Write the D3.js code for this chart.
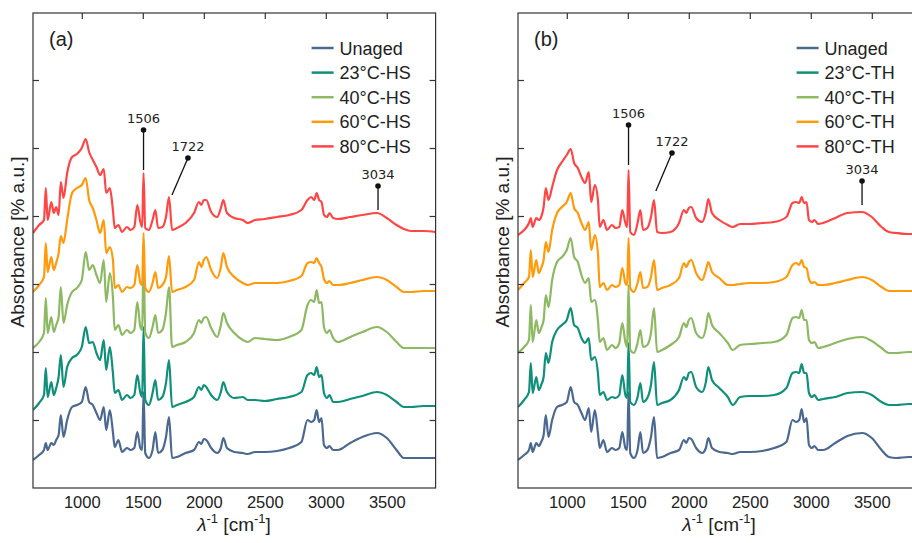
<!DOCTYPE html>
<html>
<head>
<meta charset="utf-8">
<script src="https://cdn.jsdelivr.net/npm/d3@7"></script>
<style>
  html, body { margin: 0; padding: 0; background: #fff; }
  svg { display: block; }
</style>
</head>
<body>
<svg id="chart" width="912" height="543"></svg>
<script>
// ---------- DATA ----------
const wavenumbers = [600,650,690,705,720,750,770,790,810,828,850,880,920,960,1000,1032,1060,1090,1120,1150,1180,1200,1230,1255,1270,1300,1330,1370,1400,1430,1455,1480,1495,1506,1520,1550,1580,1603,1625,1660,1690,1715,1740,1780,1850,1920,1960,1980,2000,2020,2060,2110,2140,2160,2190,2250,2320,2360,2420,2500,2600,2700,2800,2850,2880,2905,2925,2945,2965,2985,3010,3030,3060,3100,3200,3300,3420,3500,3580,3640,3700,3800,3900];

const seriesNamesA = ["Unaged", "23°C-HS", "40°C-HS", "60°C-HS", "80°C-HS"];
const seriesNamesB = ["Unaged", "23°C-TH", "40°C-TH", "60°C-TH", "80°C-TH"];
const seriesColors = ["#4b6990", "#10907a", "#8cb962", "#ff9a0a", "#ff4646"];

// Panel (a): heat-stabilised ageing (absorbance, a.u., offset stacked)
const unagedA = [28,33,38,45,38, 45,43,48,53,73, 51,68,81,83,86, 101,86,83,75,68, 81,58,78,56,41, 48,36,40,38,40, 56,40,38,96,35, 30,38,56,35,38, 51,71,30,31,35, 38,46,44,49,48, 40,35,40,50,40, 36,35,34,36,36, 37,40,46,68,66, 68,78,66,70,43, 40,42,38,38,45, 51,55,50,38,30, 30,30,30];
const hs23 = [78,85,93,120,91, 106,93,100,111,133, 101,121,130,133,141, 161,145,146,135,128, 148,118,141,115,95, 98,88,93,90,93, 113,95,91,161,88, 83,95,108,88,91, 105,128,81,83,86, 91,101,98,103,101, 93,88,96,106,96, 90,91,88,88,87, 89,91,96,113,115, 113,121,111,113,95, 90,93,86,86,89, 92,96,93,86,81, 81,82,82];
const hs40 = [140,146,155,190,155, 171,156,163,171,201, 165,183,196,200,208, 236,218,223,213,205, 228,186,215,191,158, 163,153,158,155,158, 186,161,158,233,155, 150,161,173,155,158, 175,201,141,143,146, 155,168,165,170,171, 160,151,163,175,165, 155,148,146,150,149, 148,151,158,183,188, 186,198,185,186,161, 155,158,150,146,151, 156,161,156,146,140, 140,140,140];
const hs60 = [196,203,211,245,216, 231,218,225,235,252, 245,268,295,300,303, 310,288,280,268,255, 268,235,241,228,200, 203,196,201,200,203, 223,205,203,255,200, 196,205,216,200,203, 211,232,196,198,201, 208,226,221,228,231, 218,210,221,235,221, 211,205,203,205,205, 205,207,212,225,226, 225,230,225,221,209, 205,207,203,203,205, 208,211,208,201,196, 196,197,197];
const hs80 = [255,263,268,300,268, 286,275,281,273,306, 290,315,331,334,340, 349,336,328,321,313, 319,295,300,278,260, 263,256,261,258,261, 283,266,261,315,260, 258,268,278,260,261, 271,291,258,260,265, 275,286,283,288,288, 276,271,280,288,275, 270,268,265,268,269, 271,273,278,288,291, 288,295,288,286,273, 271,275,270,269,271, 273,275,270,263,259, 257,257,256];

// Panel (b): thermal ageing
const unagedB = [28,33,38,45,36, 45,42,46,53,73, 51,68,81,83,86, 101,86,83,75,68, 80,56,78,55,40, 48,36,40,38,40, 56,40,38,96,35, 30,38,56,35,38, 51,71,30,31,35, 38,48,45,50,49, 40,35,40,50,40, 36,35,34,36,36, 37,40,46,68,66, 68,79,66,70,43, 40,42,38,38,45, 52,55,50,38,31, 30,31,31];
const th23 = [81,88,96,125,95, 111,98,103,111,135, 125,146,158,163,168, 180,163,160,150,145, 150,128,131,115,93, 96,88,91,90,93, 113,93,90,145,86, 83,91,105,86,90, 103,126,83,85,88, 98,111,108,115,116, 101,96,106,121,108, 100,91,83,91,92, 92,93,100,115,116, 115,124,115,115,95, 91,93,88,89,91, 95,96,93,86,83, 83,84,84];
const th40 = [135,141,148,183,146, 168,155,160,168,193, 181,208,226,231,238, 250,231,226,213,205, 210,186,188,168,146, 150,138,143,140,145, 165,146,141,203,138, 135,145,158,141,143, 155,180,136,138,143, 151,165,161,168,170, 155,150,160,175,163, 155,145,138,143,144, 145,146,153,170,171, 170,178,168,168,148, 145,146,140,141,145, 149,151,147,140,135, 135,136,136];
const th60 = [198,205,211,238,211, 228,215,220,228,246, 236,258,275,281,286, 295,280,275,265,258, 266,238,253,235,201, 205,198,203,201,203, 220,205,203,250,200, 196,205,216,200,201, 211,228,198,200,203, 210,225,221,226,228, 215,208,218,226,216, 210,203,203,204,205, 205,206,211,223,225, 223,228,221,220,209, 205,206,203,203,205, 208,211,208,201,197, 197,197,197];
const th80 = [253,258,265,270,261, 270,268,271,281,300, 288,301,318,326,333, 339,325,320,311,305, 316,286,303,288,261, 268,258,263,260,261, 278,265,261,318,256, 253,265,278,258,260, 271,288,256,255,256, 265,278,275,280,281, 270,266,276,289,275, 268,263,261,264,264, 265,266,271,285,286, 285,291,285,286,268, 266,268,264,265,270, 275,276,271,261,256, 255,254,254];

const xTickValues = [1000, 1500, 2000, 2500, 3000, 3500];
const yTickValues = [68, 136, 204, 272, 340, 408];
const xDomain = [600, 3900];
const yDomain = [0, 475];

// Peak annotations: dot position and leader end (wavenumber, absorbance)
const annotationsA = [
  {label: "1506", x: 1506, y: 358, x2: 1506, y2: 318},
  {label: "1722", x: 1870, y: 330, x2: 1739, y2: 293},
  {label: "3034", x: 3428, y: 302, x2: 3428, y2: 278}
];
const annotationsB = [
  {label: "1506", x: 1506, y: 363, x2: 1506, y2: 323},
  {label: "1722", x: 1862, y: 335, x2: 1730, y2: 297},
  {label: "3034", x: 3420, y: 307, x2: 3420, y2: 283}
];

// ---------- DRAW ----------
const svg = d3.select("#chart");
const FONT = "'Liberation Sans', Arial, sans-serif";

function drawPanel(opts) {
  const {left, top, width, height, tag, names, series, annotations, id, ylabelX} = opts;
  const x = d3.scaleLinear().domain(xDomain).range([0, width]);
  const y = d3.scaleLinear().domain(yDomain).range([height, 0]);
  const g = svg.append("g").attr("transform", `translate(${left},${top})`);

  g.append("clipPath").attr("id", id).append("rect")
    .attr("x", 0).attr("y", 0).attr("width", width).attr("height", height);

  const line = d3.line().curve(d3.curveMonotoneX)
    .x((d, i) => x(wavenumbers[i])).y(d => y(d));
  const plot = g.append("g").attr("clip-path", `url(#${id})`);
  series.forEach((s, i) => {
    plot.append("path").datum(s)
      .attr("fill", "none")
      .attr("stroke", seriesColors[i])
      .attr("stroke-width", 2.2)
      .attr("stroke-linejoin", "round")
      .attr("d", line);
  });

  // Frame
  g.append("rect").attr("x", 0).attr("y", 0).attr("width", width).attr("height", height)
    .attr("fill", "none").attr("stroke", "#333").attr("stroke-width", 1.2);

  // Bottom axis (labels only)
  const xAxis = d3.axisBottom(x).tickValues(xTickValues).tickSize(0).tickPadding(8).tickFormat(d3.format("d"));
  const gx = g.append("g").attr("transform", `translate(0,${height})`).call(xAxis);
  gx.select(".domain").remove();
  gx.selectAll("text").attr("font-family", FONT).attr("font-size", 16.5).attr("fill", "#222");

  // Top axis ticks inward
  const gt = g.append("g").call(d3.axisTop(x).tickValues(xTickValues).tickSize(-6).tickFormat(""));
  gt.select(".domain").remove();
  gt.selectAll("line").attr("stroke", "#333").attr("stroke-width", 1.2);

  // Left & right ticks inward
  const gl = g.append("g").call(d3.axisLeft(y).tickValues(yTickValues).tickSize(-6).tickFormat(""));
  gl.select(".domain").remove();
  gl.selectAll("line").attr("stroke", "#333").attr("stroke-width", 1.2);
  const gr = g.append("g").attr("transform", `translate(${width},0)`)
    .call(d3.axisRight(y).tickValues(yTickValues).tickSize(-6).tickFormat(""));
  gr.select(".domain").remove();
  gr.selectAll("line").attr("stroke", "#333").attr("stroke-width", 1.2);

  // X label
  const xl = g.append("text").attr("x", 201).attr("y", height + 43)
    .attr("text-anchor", "middle").attr("font-family", FONT).attr("font-size", 19).attr("fill", "#222");
  xl.append("tspan").attr("font-style", "italic").text("λ");
  xl.append("tspan").attr("dy", -8).attr("font-size", 13).text("-1");
  xl.append("tspan").attr("dy", 8).text(" [cm");
  xl.append("tspan").attr("dy", -8).attr("font-size", 13).text("-1");
  xl.append("tspan").attr("dy", 8).text("]");

  // Y label
  g.append("text")
    .attr("transform", `translate(${ylabelX},${229}) rotate(-90)`)
    .attr("text-anchor", "middle").attr("font-family", FONT).attr("font-size", 19).attr("fill", "#222")
    .text("Absorbance [% a.u.]");

  // Panel tag
  g.append("text").attr("x", 16).attr("y", 33).attr("font-family", FONT).attr("font-size", 20)
    .attr("fill", "#222").text(tag);

  // Legend
  const lg = g.append("g").attr("transform", `translate(${width - 124},35)`);
  names.forEach((n, i) => {
    const row = lg.append("g").attr("transform", `translate(0,${i * 24.6})`);
    row.append("line").attr("x1", 0).attr("x2", 22).attr("y1", 0).attr("y2", 0)
      .attr("stroke", seriesColors[i]).attr("stroke-width", 2.5);
    row.append("text").attr("x", 28).attr("y", 6.5).attr("font-family", FONT).attr("font-size", 18)
      .attr("fill", "#222").text(n);
  });

  // Annotations
  annotations.forEach(a => {
    g.append("line").attr("x1", x(a.x)).attr("y1", y(a.y)).attr("x2", x(a.x2)).attr("y2", y(a.y2))
      .attr("stroke", "#111").attr("stroke-width", 1.3);
    g.append("circle").attr("cx", x(a.x)).attr("cy", y(a.y)).attr("r", 2.8).attr("fill", "#111");
    g.append("text").attr("x", x(a.x)).attr("y", y(a.y) - 7.5)
      .attr("text-anchor", "middle").attr("font-family", "'DejaVu Sans', Verdana, sans-serif")
      .attr("font-size", 13).attr("fill", "#222").text(a.label);
  });
}

drawPanel({left: 33, top: 13, width: 402.6, height: 475, tag: "(a)", names: seriesNamesA,
  series: [unagedA, hs23, hs40, hs60, hs80], annotations: annotationsA, id: "clipA", ylabelX: -9});
drawPanel({left: 518, top: 13, width: 402.6, height: 475, tag: "(b)", names: seriesNamesB,
  series: [unagedB, th23, th40, th60, th80], annotations: annotationsB, id: "clipB", ylabelX: -9});
</script>
</body>
</html>
